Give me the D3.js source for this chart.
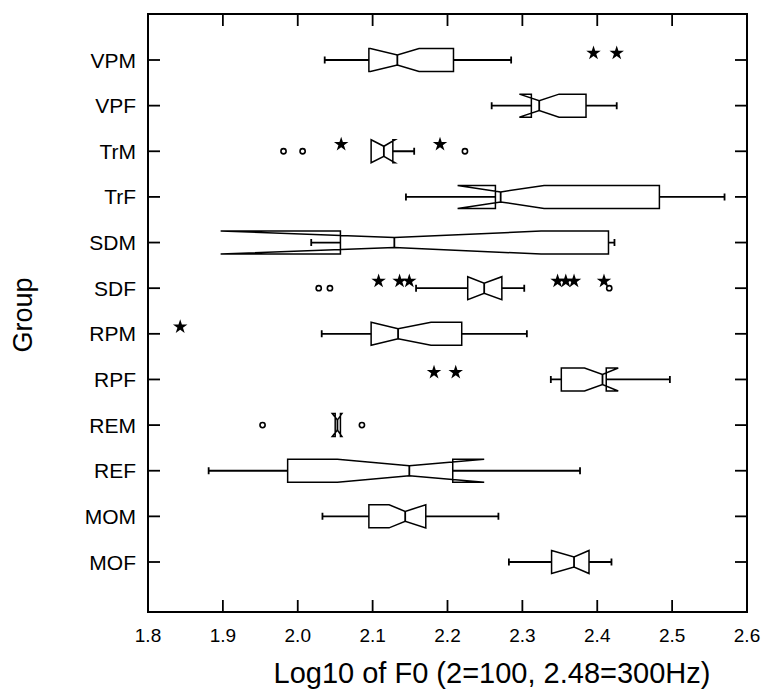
<!DOCTYPE html>
<html>
<head>
<meta charset="utf-8">
<script src="https://cdn.jsdelivr.net/npm/d3@7"></script>
<style>
  body { margin: 0; background: #fff; }
  text { font-family: "Liberation Sans", Arial, Helvetica, sans-serif; fill: #000; }
  .box { fill: none; stroke: #000; stroke-width: 1.5; }
  .whisker { stroke: #000; stroke-width: 1.8; }
  .frame { fill: none; stroke: #000; stroke-width: 2; }
  .tick { stroke: #000; stroke-width: 1.8; }
</style>
</head>
<body>
<svg class="boxsvg" width="762" height="696"></svg>
<script>
// groups, top to bottom
var groups = ["VPM", "VPF", "TrM", "TrF", "SDM", "SDF", "RPM", "RPF", "REM", "REF", "MOM", "MOF"];

// notched box summaries (log10 F0)
var whiskerLo = [2.036, 2.259, 2.098, 2.1445, 2.018, 2.158, 2.032, 2.338, 2.050, 1.881, 2.033, 2.282];
var q1        = [2.095, 2.312, 2.098, 2.264, 2.057, 2.227, 2.098, 2.352, 2.050, 1.9865, 2.095, 2.339];
var notchLo   = [2.097, 2.296, 2.098, 2.2135, 1.897, 2.227, 2.098, 2.383, 2.046, 2.053, 2.122, 2.339];
var median    = [2.133, 2.3225, 2.115, 2.271, 2.129, 2.249, 2.134, 2.407, 2.053, 2.149, 2.1435, 2.369];
var notchHi   = [2.162, 2.349, 2.130, 2.329, 2.325, 2.2726, 2.178, 2.428, 2.059, 2.249, 2.171, 2.389];
var q3        = [2.208, 2.385, 2.127, 2.483, 2.415, 2.2726, 2.219, 2.412, 2.057, 2.207, 2.171, 2.389];
var whiskerHi = [2.285, 2.426, 2.1555, 2.570, 2.423, 2.3025, 2.306, 2.497, 2.057, 2.377, 2.268, 2.419];

// outside values (stars) and far outside values (circles)
var starGroup   = ["VPM", "VPM", "TrM", "TrM", "SDF", "SDF", "SDF", "SDF", "SDF", "SDF", "SDF", "RPM", "RPF", "RPF"];
var starValue   = [2.395, 2.426, 2.058, 2.190, 2.108, 2.136, 2.149, 2.347, 2.358, 2.369, 2.409, 1.843, 2.182, 2.211];
var circleGroup = ["TrM", "TrM", "TrM", "SDF", "SDF", "SDF", "REM", "REM"];
var circleValue = [1.981, 2.0065, 2.2233, 2.028, 2.043, 2.416, 1.953, 2.0857];

var xTicks = [1.8, 1.9, 2.0, 2.1, 2.2, 2.3, 2.4, 2.5, 2.6];

var frame = {left: 148, right: 747, top: 14, bottom: 612};
var boxHalf = 11.5, waistHalf = 5, capHalf = 3.5, tickLen = 12;

var svg = d3.select(".boxsvg");

var x = d3.scaleLinear().domain([1.8, 2.6]).range([frame.left, frame.right]);
var y = d3.scalePoint().domain(groups).range([60, 562]);

// frame
svg.append("rect")
    .attr("class", "frame")
    .attr("x", frame.left)
    .attr("y", frame.top)
    .attr("width", frame.right - frame.left)
    .attr("height", frame.bottom - frame.top);

// x ticks, bottom and top, pointing inward
var xt = svg.append("g").attr("class", "xticks");
xt.selectAll(".xb").data(xTicks).enter().append("line")
    .attr("class", "tick")
    .attr("x1", d => x(d)).attr("x2", d => x(d))
    .attr("y1", frame.bottom).attr("y2", frame.bottom - tickLen);
xt.selectAll(".xtop").data(xTicks).enter().append("line")
    .attr("class", "tick")
    .attr("x1", d => x(d)).attr("x2", d => x(d))
    .attr("y1", frame.top).attr("y2", frame.top + tickLen);
xt.selectAll("text").data(xTicks).enter().append("text")
    .attr("x", d => x(d))
    .attr("y", frame.bottom + 30)
    .style("text-anchor", "middle")
    .style("font-size", "19px")
    .text(d => d3.format(".1f")(d));

// y ticks, left and right, pointing inward
var yt = svg.append("g").attr("class", "yticks");
yt.selectAll(".yl").data(groups).enter().append("line")
    .attr("class", "tick")
    .attr("x1", frame.left).attr("x2", frame.left + tickLen)
    .attr("y1", d => y(d)).attr("y2", d => y(d));
yt.selectAll(".yr").data(groups).enter().append("line")
    .attr("class", "tick")
    .attr("x1", frame.right).attr("x2", frame.right - tickLen)
    .attr("y1", d => y(d)).attr("y2", d => y(d));
yt.selectAll("text").data(groups).enter().append("text")
    .attr("x", frame.left - 12)
    .attr("y", d => y(d))
    .attr("dy", "0.36em")
    .style("text-anchor", "end")
    .style("font-size", "21px")
    .text(d => d);

// boxes
var boxes = groups.map(function(g, i) {
    return {g: g, wlo: whiskerLo[i], q1: q1[i], nlo: notchLo[i], med: median[i],
            nhi: notchHi[i], q3: q3[i], whi: whiskerHi[i]};
});

var bg = svg.append("g").attr("class", "boxes")
  .selectAll("g").data(boxes).enter().append("g");

bg.append("path")
    .attr("class", "box")
    .attr("d", function(d) {
        var c = y(d.g), t = c - boxHalf, b = c + boxHalf;
        var p = d3.path();
        p.moveTo(x(d.q1), t);
        p.lineTo(x(d.nlo), t);
        p.lineTo(x(d.med), c - waistHalf);
        p.lineTo(x(d.nhi), t);
        p.lineTo(x(d.q3), t);
        p.lineTo(x(d.q3), b);
        p.lineTo(x(d.nhi), b);
        p.lineTo(x(d.med), c + waistHalf);
        p.lineTo(x(d.nlo), b);
        p.lineTo(x(d.q1), b);
        p.closePath();
        return p.toString();
    });

// median line across the waist
bg.append("line")
    .attr("class", "whisker")
    .attr("x1", d => x(d.med)).attr("x2", d => x(d.med))
    .attr("y1", d => y(d.g) - waistHalf).attr("y2", d => y(d.g) + waistHalf);

// whiskers with end caps
bg.filter(d => d.wlo < d.q1).append("path")
    .attr("class", "whisker")
    .attr("fill", "none")
    .attr("d", d => "M" + x(d.q1) + "," + y(d.g) + "H" + x(d.wlo) +
        "M" + x(d.wlo) + "," + (y(d.g) - capHalf) + "V" + (y(d.g) + capHalf));
bg.filter(d => d.whi > d.q3).append("path")
    .attr("class", "whisker")
    .attr("fill", "none")
    .attr("d", d => "M" + x(d.q3) + "," + y(d.g) + "H" + x(d.whi) +
        "M" + x(d.whi) + "," + (y(d.g) - capHalf) + "V" + (y(d.g) + capHalf));

// stars
var star = d3.symbol().type(d3.symbolStar).size(65);
svg.append("g").attr("class", "stars")
  .selectAll("path").data(starValue).enter().append("path")
    .attr("d", star)
    .attr("transform", (d, i) => "translate(" + x(d) + "," + (y(starGroup[i]) - 7) + ")")
    .attr("fill", "#000");

// circles
svg.append("g").attr("class", "circles")
  .selectAll("circle").data(circleValue).enter().append("circle")
    .attr("cx", d => x(d))
    .attr("cy", (d, i) => y(circleGroup[i]))
    .attr("r", 2.6)
    .attr("fill", "none")
    .attr("stroke", "#000")
    .attr("stroke-width", 1.6);

// axis titles
svg.append("text")
    .attr("transform", "translate(32,315) rotate(-90)")
    .style("text-anchor", "middle")
    .style("font-size", "27px")
    .text("Group");

svg.append("text")
    .attr("x", 492)
    .attr("y", 683)
    .style("text-anchor", "middle")
    .style("font-size", "29px")
    .text("Log10 of F0 (2=100, 2.48=300Hz)");
</script>
</body>
</html>
